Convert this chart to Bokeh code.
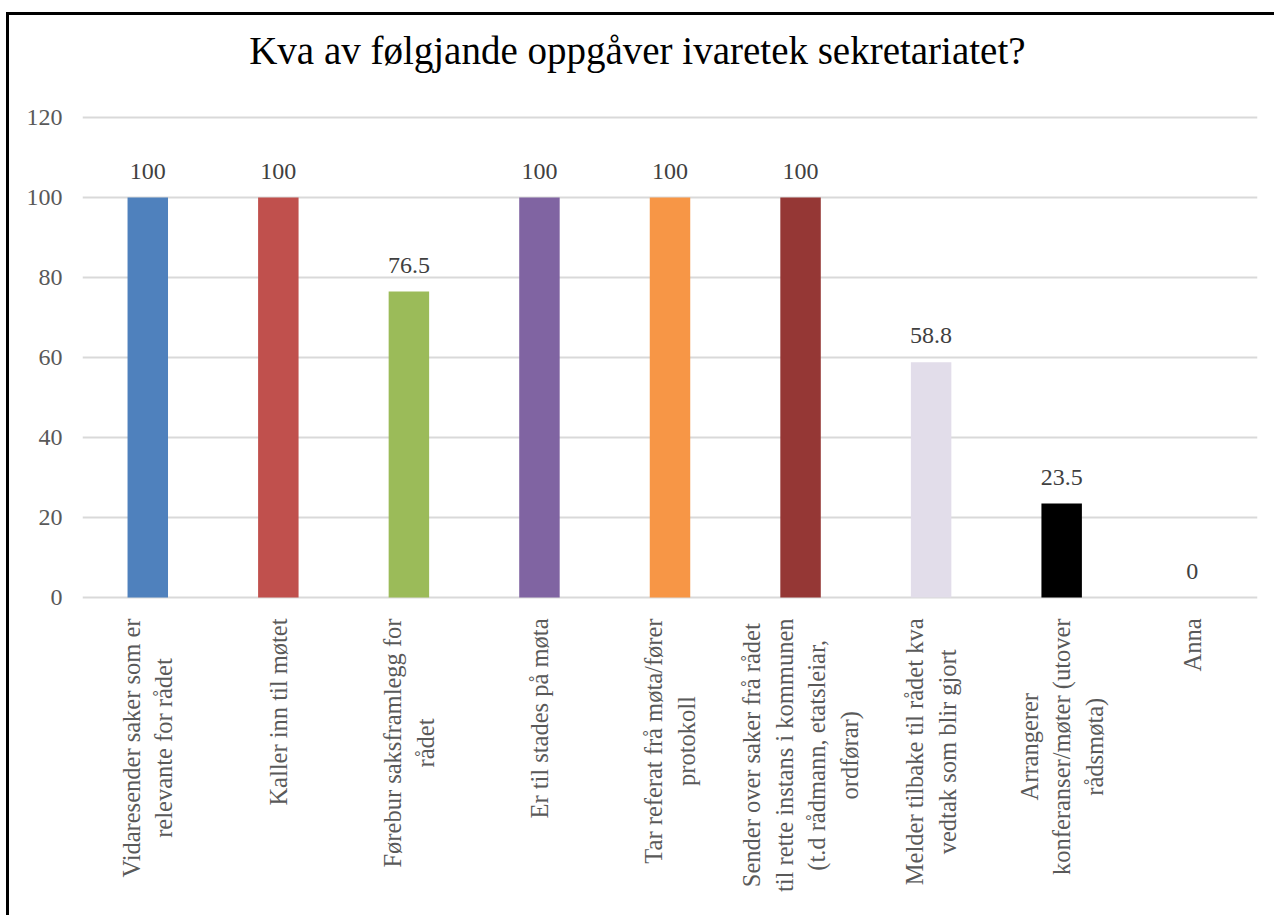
import math
from bokeh.plotting import figure
from bokeh.models import ColumnDataSource, LabelSet, Label, FactorRange, Range1d, FixedTicker
from bokeh.core.properties import value
from bokeh.embed import file_html
from bokeh.resources import INLINE

title_text = "Kva av følgjande oppgåver ivaretek sekretariatet?"
categories = [
    "Vidaresender saker som er\nrelevante for rådet",
    "Kaller inn til møtet",
    "Førebur saksframlegg for\nrådet",
    "Er til stades på møta",
    "Tar referat frå møta/fører\nprotokoll",
    "Sender over saker frå rådet\ntil rette instans i kommunen\n(t.d rådmann, etatsleiar,\nordførar)",
    "Melder tilbake til rådet kva\nvedtak som blir gjort",
    "Arrangerer\nkonferanser/møter (utover\nrådsmøta)",
    "Anna",
]
values = [100, 100, 76.5, 100, 100, 100, 58.8, 23.5, 0]
colors = ["#4F81BD", "#C0504D", "#9BBB59", "#8064A2", "#F79646",
          "#953735", "#E2DDEA", "#000000", "#4F81BD"]
y_ticks = [0, 20, 40, 60, 80, 100, 120]

FONT = "Liberation Serif"
GRAY = "#595959"

src = ColumnDataSource(dict(
    x=categories,
    top=values,
    color=colors,
    label=[f"{v:g}" for v in values],
))

# the frame fills the canvas vertically so rotated category labels and the
# title (drawn as annotations) are not clipped; 4 px per unit
p = figure(
    x_range=FactorRange(*categories, range_padding=0),
    y_range=Range1d(-80.25, 145.5),
    width=1268, height=903,
    output_backend="svg", toolbar_location=None,
    min_border_left=73, min_border_right=20,
    min_border_top=0, min_border_bottom=0,
    styles={"border-top": "3px solid black", "border-left": "3px solid black",
            "margin-top": "12px", "margin-left": "6px"},
)
p.outline_line_color = None
p.background_fill_color = "white"
p.border_fill_color = "white"

p.add_layout(Label(x=4.25, y=136.75, text=title_text, text_align="center",
                   text_baseline="alphabetic", text_font=FONT,
                   text_font_size="39px", text_color="black"))

p.vbar(x="x", top="top", width=0.31, color="color", source=src, line_color=None)

labels = LabelSet(x="x", y="top", text="label", source=src, y_offset=19,
                  text_align="center", text_baseline="alphabetic",
                  text_font=value(FONT), text_font_size=value("24px"),
                  text_color="#404040")
p.add_layout(labels)

# category labels: rotated, lines centred, block anchored just below the axis
# (numeric position i + 0.5 is the centre of factor i on the categorical range)
for i, cat in enumerate(categories):
    p.add_layout(Label(x=i + 0.5, y=0, y_offset=-21, text=cat, angle=math.pi / 2,
                       anchor="center_right", text_align="center",
                       text_font=FONT, text_font_size="24.5px",
                       text_color=GRAY))

p.xaxis.visible = False

p.yaxis.ticker = FixedTicker(ticks=y_ticks)
p.yaxis.axis_line_color = None
p.yaxis.major_tick_line_color = None
p.yaxis.minor_tick_line_color = None
p.yaxis.major_tick_out = 0
p.yaxis.major_tick_in = 0
p.yaxis.major_label_text_font = FONT
p.yaxis.major_label_text_font_size = "24px"
p.yaxis.major_label_text_color = GRAY
p.yaxis.major_label_standoff = 20

p.xgrid.grid_line_color = None
p.ygrid.ticker = FixedTicker(ticks=y_ticks)
p.ygrid.grid_line_color = "#D9D9D9"
p.ygrid.grid_line_width = 2

open("out.html", "w").write(file_html(p, INLINE))
